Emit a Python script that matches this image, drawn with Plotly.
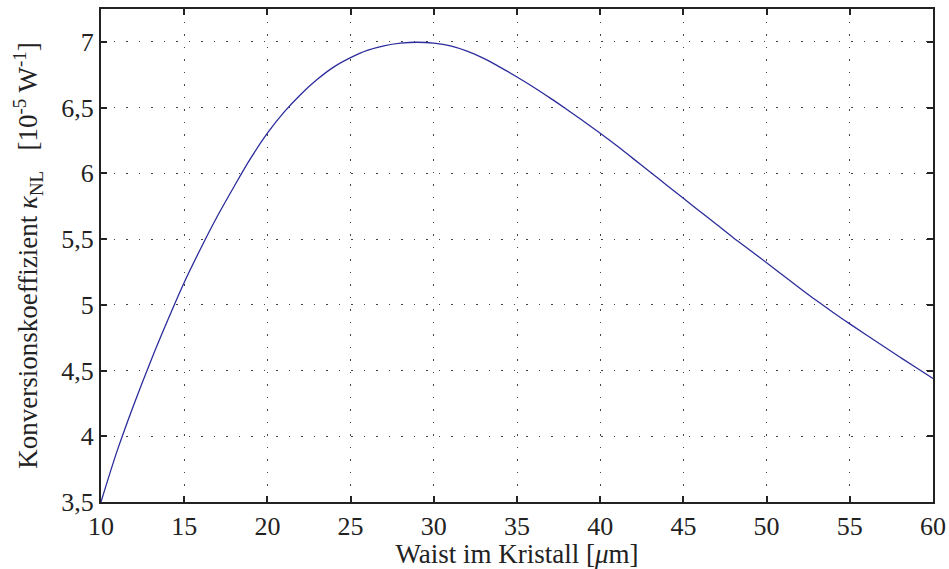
import plotly.graph_objects as go

waist_um = [10, 11, 12, 13, 14, 15, 16, 17, 18, 19, 20, 21, 22, 23, 24, 25, 26, 27, 28, 29, 30,
            31, 32, 33, 34, 35, 36, 37, 38, 39, 40, 41, 42, 43, 44, 45, 46, 47, 48, 49, 50,
            51, 52, 53, 54, 55, 56, 57, 58, 59, 60]
kappa_nl = [3.50, 3.90, 4.25, 4.575, 4.88, 5.17, 5.43, 5.675, 5.90, 6.115, 6.305, 6.465, 6.60, 6.715, 6.81, 6.88,
            6.935, 6.97, 6.99, 6.997, 6.99, 6.97, 6.93, 6.875, 6.806, 6.733, 6.655, 6.572, 6.486, 6.396, 6.305,
            6.21, 6.11, 6.01, 5.91, 5.81, 5.71, 5.61, 5.51, 5.415, 5.32, 5.222, 5.126, 5.032, 4.942, 4.855,
            4.77, 4.686, 4.603, 4.521, 4.44]

x_ticks = [10, 15, 20, 25, 30, 35, 40, 45, 50, 55, 60]
y_ticks = [3.5, 4, 4.5, 5, 5.5, 6, 6.5, 7]
y_tick_labels = ["3,5", "4", "4,5", "5", "5,5", "6", "6,5", "7"]

font_family = "Liberation Serif"
txt = "#222222"

fig = go.Figure()
fig.add_trace(go.Scatter(
    x=waist_um, y=kappa_nl, mode="lines",
    line=dict(color="#2c2c9c", width=1.3, shape="spline", smoothing=1.0),
    showlegend=False, hoverinfo="skip"))

grid = dict(showgrid=True, gridcolor="#444444", gridwidth=1, griddash="1.5px,11px",
            showline=True, linecolor="#222222", linewidth=2, mirror="ticks",
            ticks="inside", ticklen=6, tickcolor="#222222", tickwidth=1.5,
            zeroline=False, automargin=False,
            tickfont=dict(family=font_family, size=26, color=txt))

fig.update_layout(
    width=949, height=569,
    margin=dict(l=101, r=16, t=9, b=67),
    paper_bgcolor="white", plot_bgcolor="white",
    font=dict(family=font_family, color=txt),
    xaxis=dict(range=[10, 60], tickvals=x_ticks, ticktext=[str(v) for v in x_ticks],
               title=dict(text="Waist im Kristall [<i>μ</i>m]", font=dict(family=font_family, size=27, color=txt), standoff=4),
               **grid),
    yaxis=dict(range=[3.5, 7.25], tickvals=y_ticks, ticktext=y_tick_labels,
               title=dict(text="Konversionskoeffizient <i>κ</i><sub>NL</sub>   [10<sup>-5</sup> W<sup>-1</sup>]",
                          font=dict(family=font_family, size=27, color=txt), standoff=16),
               **grid),
)

fig.write_html("out.html", config={"displayModeBar": False},
               post_script="document.body.style.margin='0';document.body.style.overflow='hidden';")
